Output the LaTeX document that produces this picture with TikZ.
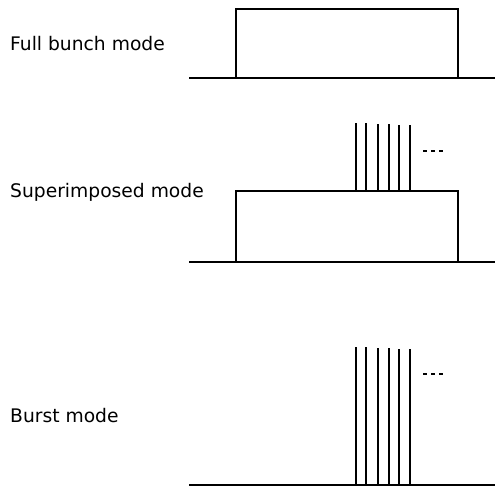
\documentclass[tikz,border=0pt]{standalone}
\usepackage{fontspec}
\setmainfont{DejaVu Sans}
\begin{document}
\begin{tikzpicture}[x=1pt,y=-1pt,
  sig/.style={line width=2.2pt},
  spike/.style={line width=2.2pt},
  dots/.style={line width=2.2pt, dash pattern=on 4pt off 4pt},
  lab/.style={anchor=west, inner sep=0pt, font=\fontsize{18.7}{21}\selectfont}]
\useasboundingbox (0,0) rectangle (495,489);
% Panel 1
\node[lab] (l1) at (10,44) {Full bunch mode};
\coordinate (a1) at (189,78);
\coordinate (b1) at (495,78);
\draw[sig] (a1) -- (b1);
\draw[sig] (236,78) -- (236,9) -- (458,9) -- (458,78);
% Panel 2
\node[lab] (l2) at (10,192) {Superimposed mode};
\coordinate (a2) at (189,262);
\coordinate (b2) at (495,262);
\draw[sig] (a2) -- (b2);
\draw[sig] (236,262) -- (236,191) -- (458,191) -- (458,262);
\foreach \x/\t in {356/123,366/123,378/124,389/124,399/125,410/125}
  \draw[spike] (\x,191) -- (\x,\t);
\draw[dots] (423,151) -- (445,151);
% Panel 3
\node[lab] (l3) at (10,416) {Burst mode};
\coordinate (a3) at (189,485);
\coordinate (b3) at (495,485);
\draw[sig] (a3) -- (b3);
\foreach \x/\t in {356/347,366/347,378/348,389/348,399/349,410/349}
  \draw[spike] (\x,485) -- (\x,\t);
\draw[dots] (423,374) -- (445,374);
\end{tikzpicture}
\end{document}
